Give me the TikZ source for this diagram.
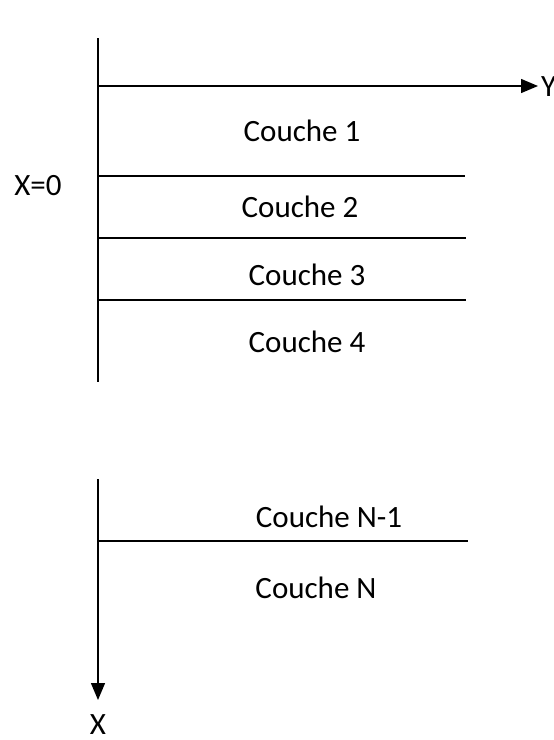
\documentclass[tikz,border=0pt]{standalone}
\usepackage{fontspec}
\setmainfont{Carlito}
\usetikzlibrary{arrows.meta}
\begin{document}
\begin{tikzpicture}[x=1pt,y=-1pt,
  ax/.style={line width=1.4pt},
  lay/.style={line width=1.2pt},
  lbl/.style={font=\fontsize{31}{34}\selectfont, inner sep=0pt, anchor=center},
  tip/.style={-{Triangle[length=17pt,width=14pt]}}]
\useasboundingbox (0,0) rectangle (554,740);
% upper part
\coordinate (t0) at (98,38);
\coordinate (t1) at (98,382);
\draw[ax] (t0) -- (t1);
\coordinate (y0) at (98,86);
\coordinate (y1) at (538,86);
\draw[ax,tip] (y0) -- (y1);
\node[lbl,anchor=west] (Y) at (541,87) {Y};
\node[lbl] (x0) at (38,186) {X=0};
\coordinate (a0) at (98,176); \coordinate (a1) at (465,176);
\coordinate (b0) at (98,238); \coordinate (b1) at (466,238);
\coordinate (c0) at (98,300); \coordinate (c1) at (466,300);
\draw[lay] (a0) -- (a1);
\draw[lay] (b0) -- (b1);
\draw[lay] (c0) -- (c1);
\node[lbl] (c1l) at (302,131) {Couche 1};
\node[lbl] (c2l) at (300,207) {Couche 2};
\node[lbl] (c3l) at (307,275) {Couche 3};
\node[lbl] (c4l) at (307,342) {Couche 4};
% lower part
\coordinate (d0) at (98,479);
\coordinate (d1) at (98,700);
\draw[ax,tip] (d0) -- (d1);
\node[lbl] (X) at (98,725) {X};
\coordinate (e0) at (98,541); \coordinate (e1) at (468,541);
\draw[lay] (e0) -- (e1);
\node[lbl] (cn1) at (329,517) {Couche N-1};
\node[lbl] (cn) at (316,588) {Couche N};
\end{tikzpicture}
\end{document}
